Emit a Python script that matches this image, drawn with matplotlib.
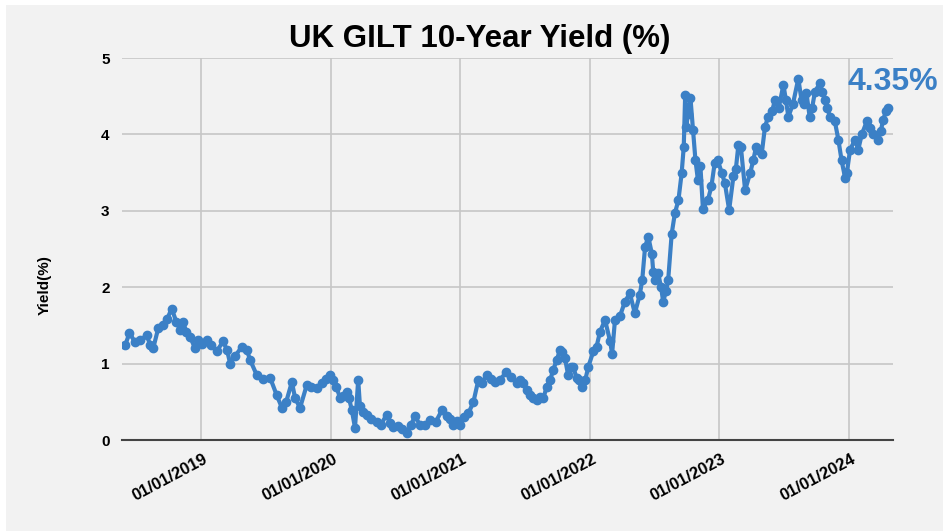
import matplotlib
matplotlib.use('Agg')
import matplotlib.pyplot as plt
import matplotlib.dates as mdates
import matplotlib.transforms as mtransforms
from matplotlib.patches import Rectangle
import numpy as np

# yields (roughly every 1-2 weeks)
dates = [
    "2018-06-01", "2018-06-13", "2018-06-29", "2018-07-13", "2018-08-01", "2018-08-10",
    "2018-08-19", "2018-09-02", "2018-09-16", "2018-09-27", "2018-10-10", "2018-10-23",
    "2018-11-03", "2018-11-11", "2018-11-20", "2018-12-01", "2018-12-15", "2018-12-24",
    "2019-01-04", "2019-01-17", "2019-01-29", "2019-02-14", "2019-03-04", "2019-03-15",
    "2019-03-24", "2019-04-07", "2019-04-26", "2019-05-10", "2019-05-19", "2019-06-07",
    "2019-06-25", "2019-07-15", "2019-08-02", "2019-08-17", "2019-08-29", "2019-09-14",
    "2019-09-23", "2019-10-07", "2019-10-26", "2019-11-07", "2019-11-23", "2019-12-08",
    "2019-12-19", "2019-12-31", "2020-01-09", "2020-01-17", "2020-01-28", "2020-02-05",
    "2020-02-16", "2020-02-22", "2020-03-01", "2020-03-10", "2020-03-19", "2020-03-24",
    "2020-04-02", "2020-04-12", "2020-04-24", "2020-05-10", "2020-05-22", "2020-06-07",
    "2020-06-17", "2020-06-26", "2020-07-09", "2020-07-21", "2020-08-03", "2020-08-15",
    "2020-08-26", "2020-09-09", "2020-09-23", "2020-10-08", "2020-10-24", "2020-11-10",
    "2020-11-24", "2020-12-03", "2020-12-12", "2020-12-23", "2020-12-31", "2021-01-11",
    "2021-01-24", "2021-02-07", "2021-02-21", "2021-03-03", "2021-03-16", "2021-03-28",
    "2021-04-09", "2021-04-23", "2021-05-11", "2021-05-24", "2021-06-09", "2021-06-18",
    "2021-06-27", "2021-07-08", "2021-07-16", "2021-07-25", "2021-08-04", "2021-08-14",
    "2021-08-23", "2021-09-02", "2021-09-11", "2021-09-20", "2021-09-30", "2021-10-09",
    "2021-10-16", "2021-10-23", "2021-11-01", "2021-11-09", "2021-11-15", "2021-11-25",
    "2021-12-02", "2021-12-09", "2021-12-19", "2021-12-28", "2022-01-11", "2022-01-20",
    "2022-01-30", "2022-02-13", "2022-02-27", "2022-03-05", "2022-03-13", "2022-03-27",
    "2022-04-10", "2022-04-24", "2022-05-08", "2022-05-22", "2022-05-29", "2022-06-06",
    "2022-06-15", "2022-06-25", "2022-06-29", "2022-07-04", "2022-07-13", "2022-07-21",
    "2022-07-27", "2022-08-04", "2022-08-10", "2022-08-20", "2022-08-29", "2022-09-08",
    "2022-09-17", "2022-09-23", "2022-09-27", "2022-09-30", "2022-10-05", "2022-10-12",
    "2022-10-19", "2022-10-26", "2022-11-02", "2022-11-09", "2022-11-16", "2022-11-30",
    "2022-12-10", "2022-12-19", "2022-12-28", "2023-01-08", "2023-01-17", "2023-01-29",
    "2023-02-10", "2023-02-17", "2023-02-24", "2023-03-03", "2023-03-15", "2023-03-29",
    "2023-04-07", "2023-04-15", "2023-04-21", "2023-05-01", "2023-05-10", "2023-05-19",
    "2023-05-30", "2023-06-07", "2023-06-18", "2023-07-01", "2023-07-08", "2023-07-15",
    "2023-07-28", "2023-08-12", "2023-08-21", "2023-08-28", "2023-09-04", "2023-09-13",
    "2023-09-20", "2023-09-28", "2023-10-12", "2023-10-19", "2023-10-26", "2023-11-02",
    "2023-11-09", "2023-11-23", "2023-12-03", "2023-12-12", "2023-12-22", "2023-12-27",
    "2024-01-05", "2024-01-19", "2024-01-28", "2024-02-07", "2024-02-21", "2024-03-01",
    "2024-03-10", "2024-03-24", "2024-04-01", "2024-04-07", "2024-04-15", "2024-04-21",
]
yields = [
    1.24, 1.40, 1.28, 1.31, 1.37, 1.25,
    1.20, 1.46, 1.50, 1.58, 1.72, 1.55,
    1.44, 1.55, 1.42, 1.35, 1.20, 1.31,
    1.26, 1.31, 1.25, 1.16, 1.29, 1.18,
    1.00, 1.10, 1.22, 1.18, 1.05, 0.85,
    0.80, 0.81, 0.59, 0.42, 0.50, 0.76,
    0.55, 0.42, 0.72, 0.70, 0.68, 0.75,
    0.80, 0.85, 0.78, 0.70, 0.55, 0.58,
    0.63, 0.55, 0.39, 0.16, 0.79, 0.44,
    0.37, 0.33, 0.28, 0.24, 0.20, 0.33,
    0.22, 0.17, 0.18, 0.14, 0.09, 0.20,
    0.31, 0.20, 0.19, 0.26, 0.24, 0.39,
    0.31, 0.27, 0.20, 0.25, 0.20, 0.30,
    0.35, 0.50, 0.79, 0.75, 0.85, 0.80,
    0.76, 0.79, 0.89, 0.82, 0.75, 0.78,
    0.74, 0.65, 0.59, 0.55, 0.52, 0.56,
    0.55, 0.70, 0.78, 0.92, 1.05, 1.18,
    1.15, 1.07, 0.85, 0.95, 0.96, 0.81,
    0.78, 0.70, 0.78, 0.96, 1.16, 1.22,
    1.42, 1.57, 1.30, 1.13, 1.57, 1.62,
    1.81, 1.92, 1.66, 1.90, 2.10, 2.53,
    2.66, 2.44, 2.20, 2.09, 2.18, 2.00,
    1.81, 1.95, 2.09, 2.70, 2.97, 3.14,
    3.49, 3.84, 4.52, 4.10, 4.27, 4.47,
    4.06, 3.66, 3.40, 3.58, 3.03, 3.14,
    3.32, 3.62, 3.66, 3.50, 3.36, 3.01,
    3.45, 3.55, 3.86, 3.84, 3.27, 3.49,
    3.66, 3.84, 3.80, 3.75, 4.10, 4.23,
    4.30, 4.45, 4.35, 4.65, 4.45, 4.23,
    4.40, 4.73, 4.45, 4.40, 4.54, 4.23,
    4.35, 4.56, 4.67, 4.55, 4.45, 4.35,
    4.23, 4.17, 3.93, 3.66, 3.43, 3.50,
    3.80, 3.93, 3.80, 4.00, 4.17, 4.08,
    4.01, 3.93, 4.05, 4.19, 4.30, 4.34,
]
x_ticks = ["2019-01-01", "2020-01-01", "2021-01-01", "2022-01-01", "2023-01-01", "2024-01-01"]
y_ticks = [0, 1, 2, 3, 4, 5]
last_label = "4.35%"

plt.rcParams['font.family'] = ['Liberation Sans', 'DejaVu Sans']
blue = '#3b80c6'

x = np.array(dates, dtype='datetime64[D]')
fig = plt.figure(figsize=(9.43, 5.31), dpi=100)
fig.patch.set_facecolor('white')
fig.patches.append(Rectangle((6 / 943, 0), 1, 1 - 5 / 531, transform=fig.transFigure,
                             facecolor='#f2f2f2', edgecolor='none', zorder=-10))

ax = fig.add_axes([122 / 943, 91 / 531, 771 / 943, 382 / 531])
ax.set_facecolor('#f2f2f2')
ax.plot(x, yields, color=blue, lw=3, marker='o', ms=6, mec=blue, mfc=blue, zorder=3)

ax.set_xlim(np.datetime64('2018-05-23'), np.datetime64('2024-05-05'))
ax.set_ylim(0, 5)
ax.set_yticks(y_ticks)
ax.set_xticks(np.array(x_ticks, dtype='datetime64[D]'))
ax.xaxis.set_major_formatter(mdates.DateFormatter('%d/%m/%Y'))
ax.grid(True, color='#c6c6c6', lw=1.2)
ax.set_axisbelow(True)
for s in ['top', 'right', 'left']:
    ax.spines[s].set_visible(False)
ax.spines['bottom'].set_color('#444444')
ax.spines['bottom'].set_linewidth(1.5)
ax.tick_params(length=0)
ax.tick_params(axis='y', labelsize=11, pad=9)
ax.tick_params(axis='x', labelsize=12, pad=8)
for lab in ax.get_yticklabels():
    lab.set_fontweight('bold')
off = mtransforms.ScaledTranslation(0.02, 0, fig.dpi_scale_trans)
for lab in ax.get_xticklabels():
    lab.set_fontweight('bold')
    lab.set_rotation(28)
    lab.set_ha('right')
    lab.set_rotation_mode('anchor')
    lab.set_transform(lab.get_transform() + off)

ax.set_ylabel('Yield(%)', fontsize=11, fontweight='bold')
ax.yaxis.set_label_coords(-0.091, 0.406)
ax.set_title('UK GILT 10-Year Yield (%)', fontsize=22.5, fontweight='bold', pad=8,
             x=(480 - 122) / 771)

ax.annotate(last_label, xy=(x[-1], yields[-1]), xytext=(-29, 19), textcoords='offset points',
            color=blue, fontsize=23, fontweight='bold', ha='left', va='center',
            annotation_clip=False)

fig.savefig('out.png', dpi=100, facecolor=fig.get_facecolor())
